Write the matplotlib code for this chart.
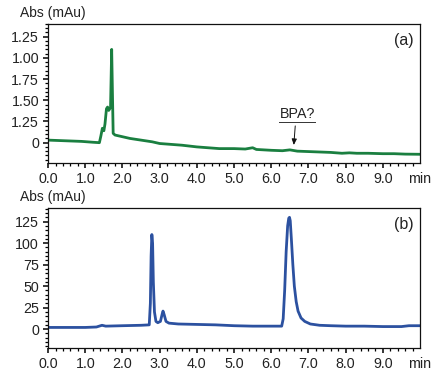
import matplotlib

matplotlib.use("Agg")
import matplotlib.pyplot as plt
from matplotlib.ticker import AutoMinorLocator, FixedLocator

plt.rcParams["font.family"] = ["Liberation Sans", "DejaVu Sans"]

# Panel (a): sample chromatogram (green)
time_a = [0.0, 0.3, 0.6, 0.9, 1.2, 1.38, 1.42, 1.46, 1.5, 1.53, 1.57, 1.6,
          1.63, 1.66, 1.68, 1.71, 1.73, 1.75, 1.8, 1.9, 2.0, 2.2, 2.5, 2.8,
          3.0, 3.3, 3.6, 4.0, 4.3, 4.6, 5.0, 5.3, 5.5, 5.6, 6.0, 6.3, 6.5,
          6.7, 7.0, 7.3, 7.6, 7.9, 8.1, 8.3, 8.6, 9.0, 9.3, 9.6, 10.0]
abs_a = [0.03, 0.025, 0.02, 0.015, 0.005, 0.0, 0.08, 0.17, 0.14, 0.22, 0.40,
         0.42, 0.38, 0.40, 0.42, 1.10, 0.60, 0.11, 0.09, 0.08, 0.07, 0.05,
         0.03, 0.01, -0.01, -0.02, -0.03, -0.05, -0.06, -0.07, -0.07, -0.075,
         -0.06, -0.08, -0.09, -0.095, -0.085, -0.10, -0.105, -0.11, -0.115,
         -0.125, -0.12, -0.125, -0.125, -0.13, -0.13, -0.135, -0.137]

# Panel (b): standard chromatogram (blue)
time_b = [0.0, 0.5, 1.0, 1.3, 1.45, 1.55, 2.0, 2.5, 2.72, 2.75, 2.77, 2.79,
          2.81, 2.83, 2.86, 2.9, 2.95, 3.02, 3.07, 3.09, 3.12, 3.17, 3.25,
          3.5, 4.0, 4.5, 5.0, 5.5, 6.0, 6.28, 6.32, 6.36, 6.40, 6.44, 6.47,
          6.49, 6.51, 6.54, 6.58, 6.62, 6.67, 6.72, 6.8, 6.9, 7.05, 7.3, 7.6,
          8.0, 8.5, 9.0, 9.5, 9.7, 10.0]
abs_b = [2.0, 2.0, 2.0, 2.5, 4.5, 3.5, 4.0, 4.5, 5.0, 30.0, 85.0, 110.0,
         100.0, 55.0, 20.0, 9.0, 7.5, 9.0, 18.0, 21.0, 17.0, 9.0, 7.0, 6.0,
         5.5, 5.0, 4.0, 3.5, 3.5, 3.5, 12.0, 45.0, 90.0, 120.0, 129.0, 130.0,
         126.0, 105.0, 75.0, 50.0, 32.0, 21.0, 13.0, 9.0, 6.0, 4.5, 4.0, 3.5,
         3.5, 3.0, 3.0, 4.0, 4.0]

x_ticks = [0, 1, 2, 3, 4, 5, 6, 7, 8, 9, 10]
x_labels = ["0.0", "1.0", "2.0", "3.0", "4.0", "5.0", "6.0", "7.0", "8.0",
            "9.0", "min"]
y_ticks_a = [0, 0.25, 0.5, 0.75, 1.0, 1.25]
y_labels_a = ["0", "1.25", "1.50", "1.75", "1.00", "1.25"]
y_ticks_b = [0, 25, 50, 75, 100, 125]
y_labels_b = ["0", "25", "50", "75", "100", "125"]

GREEN = "#1a7f40"
BLUE = "#2c51a0"
TXT = "#222222"
FS = 10.3


def style_axis(ax, yticks, ylabels, ylim, tag):
    ax.set_xlim(0, 10)
    ax.set_ylim(*ylim)
    ax.xaxis.set_major_locator(FixedLocator(x_ticks))
    ax.set_xticklabels(x_labels)
    ax.xaxis.set_minor_locator(FixedLocator([i * 0.2 for i in range(50) if i % 5]))
    ax.yaxis.set_major_locator(FixedLocator(yticks))
    ax.set_yticklabels(ylabels)
    ax.yaxis.set_minor_locator(AutoMinorLocator(5))
    ax.tick_params(which="major", direction="out", length=3.5, width=1.1,
                   labelsize=FS, labelcolor=TXT, pad=3)
    ax.tick_params(which="minor", direction="out", length=2, width=0.9)
    ax.tick_params(axis="x", which="major", pad=3)
    ax.xaxis.get_major_ticks()[-1].tick1line.set_visible(False)
    for s in ax.spines.values():
        s.set_linewidth(0.9)
        s.set_color("#111111")
    ax.text(-0.075, 1.025, "Abs (mAu)", transform=ax.transAxes, ha="left",
            va="bottom", fontsize=10, color=TXT)
    ax.text(0.955, 0.88, tag, transform=ax.transAxes, ha="center", va="center",
            fontsize=11.5, color=TXT)


fig = plt.figure(figsize=(4.45, 3.8), dpi=100)
ax_a = fig.add_axes([0.108, 0.571, 0.836, 0.366])
ax_b = fig.add_axes([0.108, 0.084, 0.836, 0.369])

ax_a.plot(time_a, abs_a, color=GREEN, lw=2.0, solid_joinstyle="round")
style_axis(ax_a, y_ticks_a, y_labels_a, (-0.24, 1.40), "(a)")
ax_a.annotate("", xy=(6.6, -0.06), xytext=(6.65, 0.23),
              arrowprops=dict(arrowstyle="-|>,head_length=0.35,head_width=0.15",
                              color="#111111", lw=0.7))
ax_a.text(6.7, 0.25, "BPA?", ha="center", va="bottom", fontsize=FS, color=TXT)
ax_a.plot([6.22, 7.17], [0.24, 0.24], color="#333333", lw=0.7)

ax_b.plot(time_b, abs_b, color=BLUE, lw=2.0, solid_joinstyle="round")
style_axis(ax_b, y_ticks_b, y_labels_b, (-22, 141), "(b)")

fig.savefig("out.png", dpi=100)
